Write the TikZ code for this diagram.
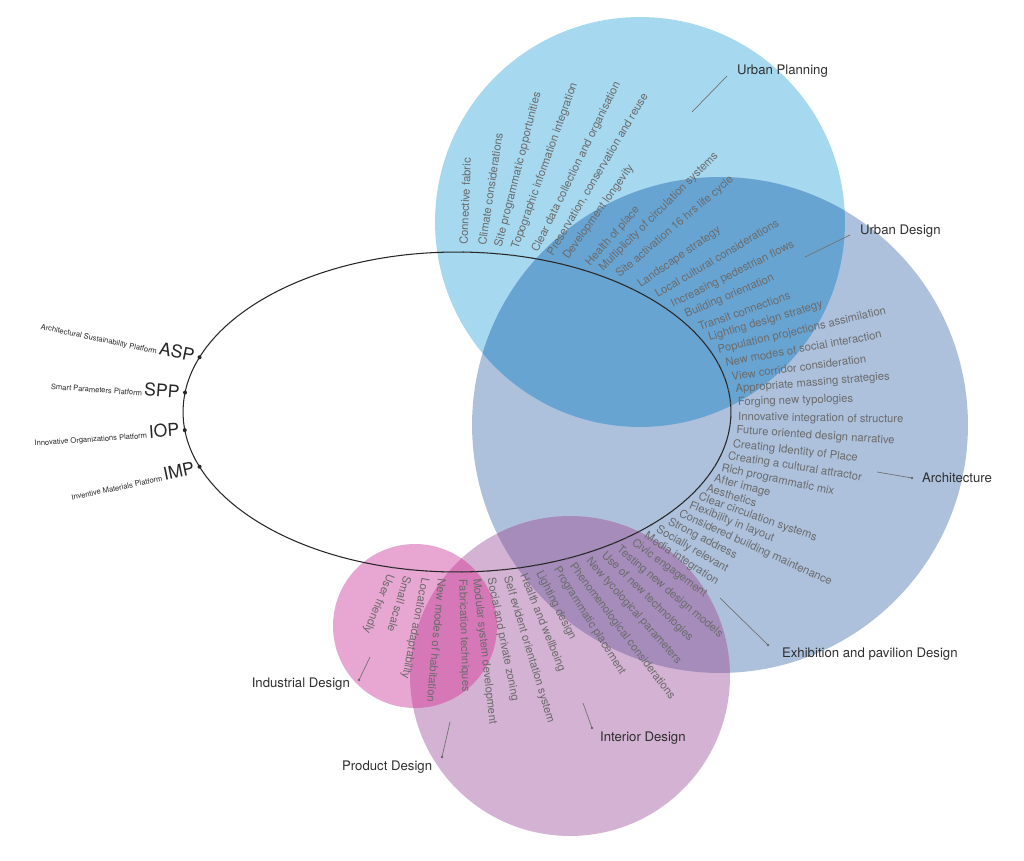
\documentclass[tikz,border=0pt]{standalone}
\usepackage{fontspec}
\setmainfont{TeX Gyre Heros}
\begin{document}
\begin{tikzpicture}[x=0.02cm,y=-0.02cm,
  lbl/.style={font=\fontsize{6.4}{7.5}\selectfont,text=black!58,inner sep=1pt},
  cl/.style={font=\fontsize{7.5}{9}\selectfont,text=black!82,inner sep=1pt},
  lead/.style={draw=black!55,line width=0.4pt},
  dotend/.style={fill=black!60,circle,inner sep=0.5pt}]
\useasboundingbox (0,0) rectangle (1024,861);
\definecolor{cblue}{RGB}{166,216,239}
\definecolor{cbig}{RGB}{173,193,221}
\definecolor{cbb}{RGB}{104,164,210}
\definecolor{cint}{RGB}{212,178,211}
\definecolor{cib}{RGB}{165,140,186}
\definecolor{cind}{RGB}{232,166,210}
\definecolor{cii}{RGB}{214,120,184}
% circles
\fill[cblue] (640,222) circle (4.1cm);
\fill[cbig] (720,425) circle (4.96cm);
\fill[cint] (570,676) circle (3.2cm);
\fill[cind] (415,626) circle (1.64cm);
\begin{scope}\clip (640,222) circle (4.1cm); \fill[cbb] (720,425) circle (4.96cm);\end{scope}
\begin{scope}\clip (720,425) circle (4.96cm); \fill[cib] (570,676) circle (3.2cm);\end{scope}
\begin{scope}\clip (570,676) circle (3.2cm); \fill[cii] (415,626) circle (1.64cm);\end{scope}
% ellipse
\draw[black!85,line width=0.6pt] (457,412) ellipse [x radius=5.48cm, y radius=3.2cm];
\foreach \t/\s in {88.7/Connective fabric,85/Climate considerations,81.6/Site programmatic opportunities,78.2/Topographic information integration,74.1/Clear data collection and organisation,70.9/{Preservation, conservation and reuse},67.5/Development longevity,62.6/Health of place,59.5/Multiplicity of circulation systems,55.5/Site activation 16 hrs life cycle,50/Landscape strategy,45.4/Local cultural considerations,40.5/Increasing pedestrian flows,36/Building orientation,31/Transit connections,26.7/Lighting design strategy,22/Population projections assimilation,17.5/New modes of social interaction,12.6/View corridor consideration,7.9/Appropriate massing strategies,3.2/Forging new typologies,-1.8/Innovative integration of structure,-6.5/Future oriented design narrative,-11.3/Creating Identity of Place,-15.6/Creating a cultural attractor,-20/Rich programmatic mix,-24/After image,-27.5/Aesthetics,-31/Clear circulation systems,-34.5/Flexibility in layout,-38/Considered building maintenance,-41.5/Strong address,-45/Socially relevant,-48.3/Media integration,-51.6/Civic engagement,-55.4/Testing new design models,-59/Use of new technologies,-62.6/New tycological parameters,-66.3/Phenomenological considerations,-69.7/Programmatic placement,-73.4/Lighting design,-76.7/Health and wellbeing,-80/Self evident orientation system,-83.3/Social and private zoning,-86.2/Modular system development,-89/Fabrication techniques,-93/New modes of habitation,-96.5/Location  adaptability,-99.9/Small scale,-103.5/User friendly}{
  \pgfmathsetmacro{\a}{atan2(160*sin(\t),274*cos(\t))}
  \coordinate (p) at ({457+274*cos(\t)},{412-160*sin(\t)});
  \fill[black!70] (p) circle (0.9);
  \node[lbl,anchor=west,rotate=\a,xshift=3pt] at (p) {\s};
}
\foreach \t/\s/\b/\n in {160/Architectural Sustainability Platform/ASP/asp,173/Smart Parameters Platform/SPP/spp,186.5/Innovative Organizations Platform/IOP/iop,200/Inventive Materials Platform/IMP/imp}{
  \pgfmathsetmacro{\a}{atan2(160*sin(\t),274*cos(\t))-180}
  \coordinate (\n) at ({457+274*cos(\t)},{412-160*sin(\t)});
  \fill[black!85] (\n) circle (2);
  \node[anchor=east,rotate=\a,xshift=-2pt,text=black!85,inner sep=1pt] at (\n) {\fontsize{4.3}{5}\selectfont\s\ \fontsize{10}{12}\selectfont\b};
}
% circle labels
\node[cl,anchor=west] (up) at (735,71) {Urban Planning};
\coordinate (up1) at (692,112); \coordinate (up2) at (727,76);
\draw[lead] (up1) -- (up2);
\node[cl,anchor=west] (ud) at (858,231) {Urban Design};
\coordinate (ud1) at (805,257); \coordinate (ud2) at (850,235);
\draw[lead] (ud1) -- (ud2);
\node[cl,anchor=west] (ar) at (920,478) {Architecture};
\coordinate (ar1) at (877,472); \coordinate (ar2) at (912,478);
\draw[lead] (ar1) -- (ar2); \fill[black!60] (ar2) circle (1.3);
\node[cl,anchor=west] (ex) at (780,654) {Exhibition and pavilion Design};
\coordinate (ex1) at (720,598); \coordinate (ex2) at (768,645);
\draw[lead] (ex1) -- (ex2); \fill[black!60] (ex2) circle (1.3);
\node[cl,anchor=west] (in) at (598,738) {Interior Design};
\coordinate (in1) at (583,703); \coordinate (in2) at (592,728);
\draw[lead] (in1) -- (in2); \fill[black!60] (in2) circle (1.3);
\node[cl,anchor=east] (id) at (352,684) {Industrial Design};
\coordinate (id1) at (370,657); \coordinate (id2) at (359,680);
\draw[lead] (id1) -- (id2); \fill[black!60] (id2) circle (1.3);
\node[cl,anchor=west] (pd) at (340,767) {Product Design};
\coordinate (pd1) at (450,722); \coordinate (pd2) at (442,757);
\draw[lead] (pd1) -- (pd2); \fill[black!60] (pd2) circle (1.3);
\end{tikzpicture}
\end{document}
